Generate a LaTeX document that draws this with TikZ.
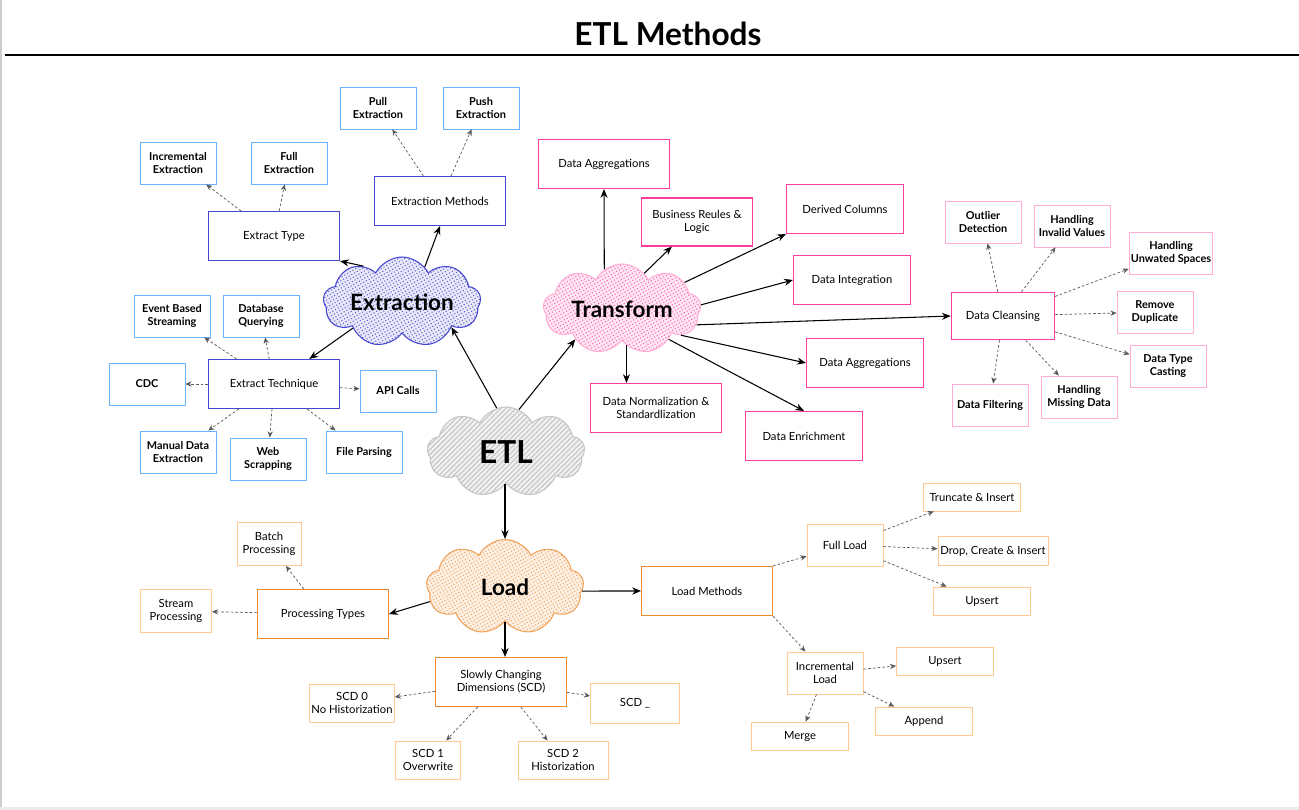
\documentclass[tikz,border=0pt]{standalone}
\usepackage{fontspec}
\setmainfont{Lato}
\usetikzlibrary{shapes.symbols,patterns.meta,arrows.meta}
\definecolor{bluedk}{HTML}{4646CF}
\definecolor{bluelt}{HTML}{6AB4FF}
\definecolor{pinkdk}{HTML}{FF3D9E}
\definecolor{pinklt}{HTML}{FFADD6}
\definecolor{orgdk}{HTML}{EE8A2E}
\definecolor{orglt}{HTML}{FFC98F}
\begin{document}
\begin{tikzpicture}[x=0.02cm,y=-0.02cm,
  every node/.style={font=\fontsize{6.4}{7.2}\selectfont,align=center,inner sep=1pt},
  midbox/.style={draw,fill=white,line width=0.6pt,minimum width=2.62cm,minimum height=0.98cm},
  leafbox/.style={draw,fill=white,line width=0.5pt,minimum width=1.52cm,minimum height=0.84cm},
  bleaf/.style={leafbox,draw=bluelt,font=\fontsize{6.2}{7.2}\selectfont\bfseries},
  pleaf/.style={leafbox,draw=pinklt,font=\fontsize{6.2}{7.2}\selectfont\bfseries},
  oleaf/.style={leafbox,draw=orglt},
  blob/.style={cloud,cloud puffs=9,cloud puff arc=125,cloud ignores aspect,draw,line width=0.6pt,
    minimum width=3.15cm,minimum height=1.8cm,font=\fontsize{12.8}{15}\selectfont\bfseries},
  solidarr/.style={-{Stealth[length=5pt,width=4pt]},line width=0.6pt,black},
  dotarr/.style={-{Stealth[length=3.5pt,width=3pt]},gray!70!black,line width=0.4pt,dash pattern=on 1.5pt off 1.2pt}]
\useasboundingbox (0,0) rectangle (1299,810);
\fill[white] (0,0) rectangle (1299,810);
\draw[gray!40,line width=0.6pt] (1,0) -- (1,810);
\fill[gray!15] (0,807) rectangle (1299,810);
% title
\node[font=\fontsize{18}{21}\selectfont\bfseries] (title) at (668,34) {ETL Methods};
\draw[line width=1.7pt] (5,55) -- (1299,55);
% clouds
\node[blob,draw=gray!45,preaction={fill=gray!12},pattern={Lines[angle=45,distance=2pt,line width=0.5pt]},pattern color=gray!50,font=\fontsize{18}{21}\selectfont\bfseries] (etl) at (506,452) {ETL};
\node[blob,draw=bluedk,preaction={fill=bluedk!12},pattern={Dots[distance=1.8pt,radius=0.45pt,angle=30]},pattern color=bluedk!85] (ext) at (402,302) {Extraction};
\node[blob,draw=pinklt,preaction={fill=pinkdk!12},pattern={Dots[distance=1.8pt,radius=0.45pt,angle=30]},pattern color=pinkdk!80] (trf) at (622,309) {Transform};
\node[blob,draw=orgdk!80,preaction={fill=orgdk!12},pattern={Dots[distance=1.8pt,radius=0.45pt,angle=30]},pattern color=orgdk!75,minimum height=1.9cm] (lod) at (505,587) {Load};
% extraction
\node[midbox,draw=bluedk] (xmeth) at (440,201) {Extraction Methods};
\node[midbox,draw=bluedk] (xtype) at (274,236) {Extract Type};
\node[midbox,draw=bluedk] (xtech) at (274,384) {Extract Technique};
\node[bleaf] (pull) at (378,108) {Pull\\Extraction};
\node[bleaf] (push) at (481,108) {Push\\Extraction};
\node[bleaf] (xincr) at (178,163) {Incremental\\Extraction};
\node[bleaf] (xfull) at (289,163) {Full\\Extraction};
\node[bleaf] (event) at (172,316) {Event Based\\Streaming};
\node[bleaf] (dbq) at (261,316) {Database\\Querying};
\node[bleaf] (cdc) at (147,384) {CDC};
\node[bleaf] (api) at (398,391) {API Calls};
\node[bleaf] (manual) at (178,452) {Manual Data\\Extraction};
\node[bleaf] (web) at (268,459) {Web\\Scrapping};
\node[bleaf] (file) at (364,452) {File Parsing};
% transform
\node[midbox,draw=pinkdk] (agg1) at (604,164) {Data Aggregations};
\node[midbox,draw=pinkdk,minimum width=2.22cm,minimum height=0.96cm] (biz) at (697,222) {Business Reules \&\\Logic};
\node[midbox,draw=pinkdk,minimum width=2.34cm] (der) at (845,209) {Derived Columns};
\node[midbox,draw=pinkdk,minimum width=2.34cm] (integ) at (852,280) {Data Integration};
\node[midbox,draw=pinkdk,minimum width=2.34cm] (agg2) at (865,363) {Data Aggregations};
\node[midbox,draw=pinkdk] (norm) at (656,408) {Data Normalization \&\\Standardlization};
\node[midbox,draw=pinkdk,minimum width=2.34cm] (enrich) at (804,436) {Data Enrichment};
\node[midbox,draw=pinkdk,line width=0.8pt,minimum width=2.06cm,minimum height=0.94cm] (clean) at (1003,316) {Data Cleansing};
\node[pleaf] (outl) at (983,222) {Outlier\\Detection};
\node[pleaf] (inval) at (1072,226) {Handling\\Invalid Values};
\node[pleaf,minimum width=1.66cm] (space) at (1171,253) {Handling\\Unwated Spaces};
\node[pleaf] (dupl) at (1155,312) {Remove\\Duplicate};
\node[pleaf] (cast) at (1168,366) {Data Type\\Casting};
\node[pleaf] (filt) at (990,405) {Data Filtering};
\node[pleaf] (miss) at (1079,397) {Handling\\Missing Data};
% load
\node[midbox,draw=orgdk] (ptype) at (323,614) {Processing Types};
\node[midbox,draw=orgdk] (lmeth) at (707,591) {Load Methods};
\node[midbox,draw=orgdk] (scd) at (501,682) {Slowly Changing\\Dimensions (SCD)};
\node[oleaf,minimum width=1.28cm,minimum height=0.86cm] (batch) at (269,544) {Batch\\Processing};
\node[oleaf,minimum width=1.42cm,minimum height=0.86cm] (stream) at (176,611) {Stream\\Processing};
\node[oleaf] (fload) at (845,545) {Full Load};
\node[oleaf] (iload) at (825,673) {Incremental\\Load};
\node[oleaf,minimum width=1.94cm,minimum height=0.56cm] (trunc) at (972,497) {Truncate \& Insert};
\node[oleaf,minimum width=2.2cm,minimum height=0.58cm] (drop) at (993,551) {Drop, Create \& Insert};
\node[oleaf,minimum width=1.94cm,minimum height=0.56cm] (ups1) at (982,601) {Upsert};
\node[oleaf,minimum width=1.94cm,minimum height=0.56cm] (ups2) at (945,661) {Upsert};
\node[oleaf,minimum width=1.94cm,minimum height=0.56cm] (app) at (924,721) {Append};
\node[oleaf,minimum width=1.94cm,minimum height=0.56cm] (merge) at (800,736) {Merge};
\node[oleaf,minimum width=1.56cm,minimum height=0.76cm] (scd0) at (352,703) {SCD 0\\No Historization};
\node[oleaf,minimum width=1.78cm,minimum height=0.8cm] (scdx) at (635,703) {SCD \_};
\node[oleaf,minimum width=1.3cm,minimum height=0.76cm] (scd1) at (428,760) {SCD 1\\Overwrite};
\node[oleaf,minimum width=1.8cm,minimum height=0.76cm] (scd2) at (563,760) {SCD 2\\Historization};
% solid links
\draw[solidarr] (etl.102) -- (ext.-27);
\draw[solidarr] (etl.73) -- (trf.-147);
\draw[solidarr] (etl.south -| lod.north) -- (lod.north);
\draw[solidarr] (ext.137) -- (xtype.south east);
\draw[solidarr] (ext.57) -- (xmeth.south);
\draw[solidarr] (ext.-152) -- (xtech);
\draw[solidarr] (trf.114) -- (agg1.south);
\draw[solidarr] (trf.58) -- (biz);
\draw[solidarr] (trf.23) -- (der.south west);
\draw[solidarr] (trf.3) -- (integ.west);
\draw[solidarr] (trf.-12) -- (clean.west);
\draw[solidarr] (trf.-24) -- (agg2.west);
\draw[solidarr] (trf.-83) -- (trf.-83 |- norm.north);
\draw[solidarr] (trf.-33) -- (enrich.north);
\draw[solidarr] (lod.-169) -- (ptype.east);
\draw[solidarr] (lod.-3) -- (lmeth.west);
\draw[solidarr] (lod.south) -- (lod.south |- scd.north);
% dotted links
\draw[dotarr] (lmeth.south east) -- (iload);
\draw[dotarr] (lmeth.north east) -- (fload);
\foreach \s/\t in {xtype/xincr,xtype/xfull,xmeth/pull,xmeth/push,xtech/event,xtech/dbq,xtech/cdc,xtech/api,xtech/manual,xtech/web,xtech/file,
  clean/outl,clean/inval,clean/space,clean/dupl,clean/cast,clean/filt,clean/miss,
  ptype/batch,ptype/stream,fload/trunc,fload/drop,fload/ups1,iload/ups2,iload/app,iload/merge,
  scd/scd0,scd/scdx,scd/scd1,scd/scd2}
  {\draw[dotarr] (\s) -- (\t);}
\end{tikzpicture}
\end{document}
